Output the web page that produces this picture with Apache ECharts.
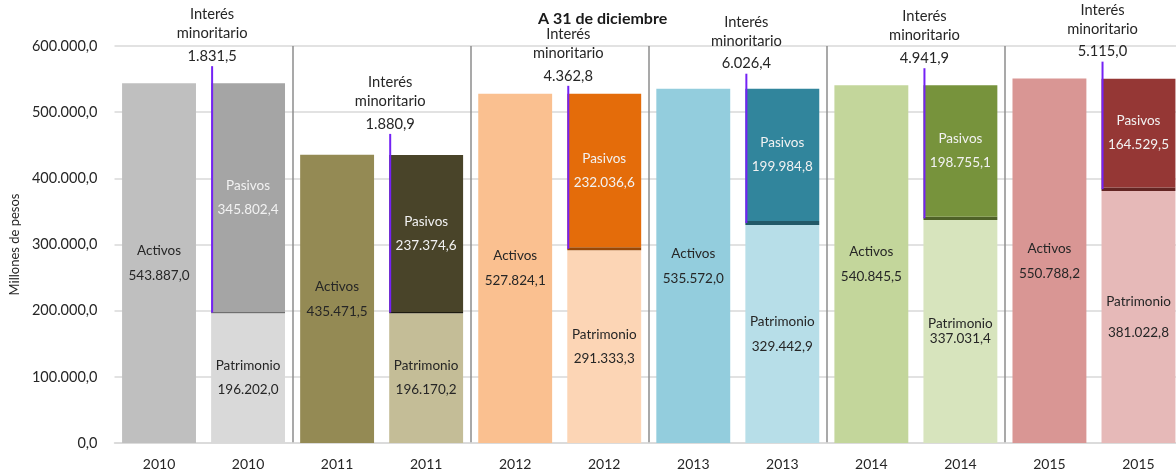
<!DOCTYPE html>
<html lang="es">
<head>
    <meta charset="UTF-8">
    <title>A 31 de diciembre</title>
    <script src="https://cdn.jsdelivr.net/npm/echarts@6/dist/echarts.min.js"></script>
    <style>
        html, body { margin: 0; padding: 0; background: #fff; overflow: hidden; }
        /* el gráfico original queda recortado por la derecha */
        #chart { width: 1183px; height: 475px; }
    </style>
</head>
<body>
    <div id="chart"></div>
    <script>
        // datos (millones de pesos)
        var years = ['2010', '2011', '2012', '2013', '2014', '2015'];
        var activos = [543887.0, 435471.5, 527824.1, 535572.0, 540845.5, 550788.2];
        var patrimonio = [196202.0, 196170.2, 291333.3, 329442.9, 337031.4, 381022.8];
        var interes = [1831.5, 1880.9, 4362.8, 6026.4, 4941.9, 5115.0];
        var pasivos = [345802.4, 237374.6, 232036.6, 199984.8, 198755.1, 164529.5];
        var yTicks = [0, 100000, 200000, 300000, 400000, 500000, 600000];

        // colores por año
        var colActivos = ['#bfbfbf', '#948a54', '#fac090', '#93cddd', '#c3d69b', '#d99694'];
        var colPatrimonio = ['#d9d9d9', '#c4bd97', '#fcd5b5', '#b7dee8', '#d7e4bd', '#e6b9b8'];
        var colInteres = ['#6f6f6f', '#1d1b10', '#984807', '#215968', '#4f6228', '#632523'];
        var colPasivos = ['#a5a5a5', '#494429', '#e46c0a', '#31859c', '#77933c', '#953735'];
        // separacion de la etiqueta "Interés minoritario" sobre la barra (px)
        var leaderGap = [17, 21, 8, 15, 17, 17];
        var patLineHeight = [24, 24, 24, 25, 15, 31];

        var FONT = 'Lato, "Noto Sans", sans-serif';
        var DARK = '#262626';

        function fmt(v) {
            var s = Number(v).toFixed(1).split('.');
            s[0] = s[0].replace(/\B(?=(\d{3})+(?!\d))/g, '.');
            return s[0] + ',' + s[1];
        }

        var categories = [];
        years.forEach(function (y) { categories.push(y, y); });

        function pairData(values, colors, onStacked, labelFn) {
            var out = [];
            for (var i = 0; i < years.length; i++) {
                var item = { value: values[i], itemStyle: { color: colors[i] } };
                if (labelFn) item.label = labelFn(i);
                if (onStacked) { out.push('-'); out.push(item); }
                else { out.push(item); out.push('-'); }
            }
            return out;
        }

        var barCommon = {
            type: 'bar',
            stack: 'total',
            barCategoryGap: '17%',
            emphasis: { disabled: true }
        };

        var interesData = years.map(function (y, i) {
            return [2 * i + 1, patrimonio[i], interes[i], patrimonio[i] + interes[i] + pasivos[i]];
        });

        var chart = echarts.init(document.getElementById('chart'));
        var option = {
            animation: false,
            textStyle: { fontFamily: FONT },
            title: {
                text: 'A 31 de diciembre',
                left: 533,
                top: 6,
                textStyle: { fontSize: 16, fontWeight: 'bold', color: '#1a1a1a', fontFamily: FONT }
            },
            grid: { left: 114.5, top: 46, right: 0, bottom: 32, containLabel: false },
            xAxis: {
                type: 'category',
                data: categories,
                axisLine: { lineStyle: { color: '#d9d9d9', width: 1.5 } },
                axisTick: { show: false },
                axisLabel: { color: DARK, fontSize: 14, margin: 14, interval: 0 },
                splitLine: {
                    show: true,
                    interval: function (index) { return index > 0 && index < 12 && index % 2 === 0; },
                    lineStyle: { color: '#8c8c8c', width: 1.5 }
                }
            },
            yAxis: {
                type: 'value',
                min: 0,
                max: 600000,
                interval: 100000,
                name: 'Millones de pesos',
                nameLocation: 'middle',
                nameGap: 91,
                nameTextStyle: { color: DARK, fontSize: 13 },
                axisLine: { show: false },
                axisTick: { show: false },
                axisLabel: {
                    color: DARK,
                    fontSize: 14.5,
                    margin: 17,
                    formatter: function (v) { return yTicks.indexOf(v) >= 0 ? fmt(v) : ''; }
                },
                splitLine: { lineStyle: { color: '#d9d9d9', width: 1.5 } }
            },
            series: [
                Object.assign({}, barCommon, {
                    name: 'Activos',
                    data: pairData(activos, colActivos, false),
                    label: {
                        show: true, position: 'inside', color: DARK, fontSize: 13.5, lineHeight: 25,
                        formatter: function (p) { return 'Activos\n' + fmt(p.value); }
                    }
                }),
                Object.assign({}, barCommon, {
                    name: 'Patrimonio',
                    data: pairData(patrimonio, colPatrimonio, true, function (i) {
                        return { lineHeight: patLineHeight[i] };
                    }),
                    label: {
                        show: true, position: 'inside', color: DARK, fontSize: 13.5, lineHeight: 24,
                        formatter: function (p) { return 'Patrimonio\n' + fmt(p.value); }
                    }
                }),
                Object.assign({}, barCommon, {
                    name: 'Interés minoritario',
                    data: pairData(interes, colInteres, true)
                }),
                Object.assign({}, barCommon, {
                    name: 'Pasivos',
                    data: pairData(pasivos, colPasivos, true),
                    label: {
                        show: true, position: 'inside', color: '#f2f2f2', fontSize: 13.5, lineHeight: 24,
                        formatter: function (p) { return 'Pasivos\n' + fmt(p.value); }
                    }
                }),
                {
                    // línea guía y etiqueta del interés minoritario
                    type: 'custom',
                    name: 'Interés guía',
                    clip: false,
                    silent: true,
                    z: 5,
                    data: interesData,
                    renderItem: function (params, api) {
                        var cat = api.value(0);
                        var base = api.value(1);
                        var mi = api.value(2);
                        var total = api.value(3);
                        var band = api.size([1, 0])[0];
                        var x = api.coord([cat, 0])[0] - band * 0.83 / 2 + 1;
                        var yBottom = api.coord([cat, base + mi / 2])[1];
                        var yTop = api.coord([cat, total])[1] - leaderGap[params.dataIndex];
                        return {
                            type: 'group',
                            children: [
                                {
                                    type: 'line',
                                    shape: { x1: x, y1: yBottom, x2: x, y2: yTop },
                                    style: { stroke: '#7422f5', lineWidth: 2 }
                                },
                                {
                                    type: 'text',
                                    style: {
                                        text: 'Interés\nminoritario', x: x, y: yTop - 42,
                                        align: 'center', verticalAlign: 'middle', lineHeight: 19,
                                        fontSize: 14.7, fontFamily: FONT, fill: DARK
                                    }
                                },
                                {
                                    type: 'text',
                                    style: {
                                        text: fmt(mi), x: x, y: yTop - 10,
                                        align: 'center', verticalAlign: 'middle',
                                        fontSize: 14.7, fontFamily: FONT, fill: DARK
                                    }
                                }
                            ]
                        };
                    }
                }
            ]
        };
        chart.setOption(option);
    </script>
</body>
</html>
